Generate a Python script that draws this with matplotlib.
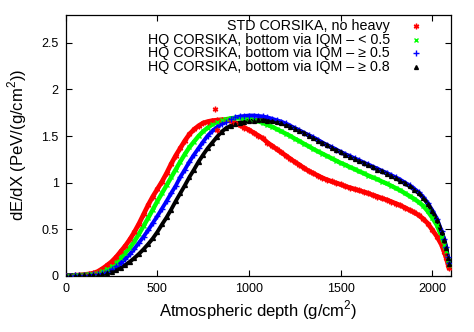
import matplotlib
matplotlib.use("Agg")
import matplotlib.pyplot as plt
from matplotlib.ticker import FormatStrFormatter, MultipleLocator

plt.rcParams['font.family'] = ['Liberation Sans', 'DejaVu Sans']
plt.rcParams['mathtext.fontset'] = 'custom'
plt.rcParams['mathtext.rm'] = 'Liberation Sans'

depth = [0, 25, 50, 75, 100, 125, 150, 175, 200, 225, 250, 275, 300, 325, 350, 375,
         400, 425, 450, 475, 500, 525, 550, 575, 600, 625, 650, 675, 700, 725, 750, 775,
         800, 825, 850, 875, 900, 925, 950, 975, 1000, 1025, 1050, 1075, 1100, 1125, 1150,
         1175, 1200, 1225, 1250, 1275, 1300, 1325, 1350, 1375, 1400, 1425, 1450, 1475,
         1500, 1525, 1550, 1575, 1600, 1625, 1650, 1675, 1700, 1725, 1750, 1775, 1800,
         1825, 1850, 1875, 1900, 1925, 1950, 1975, 2000, 2025, 2050, 2065, 2075, 2085, 2090]

std_no_heavy = [0.0, 0.002, 0.004, 0.007, 0.012, 0.018, 0.026, 0.045, 0.075, 0.11, 0.15, 0.20,
                0.26, 0.32, 0.39, 0.47, 0.56, 0.66, 0.76, 0.85, 0.93, 1.01, 1.10, 1.20, 1.29,
                1.37, 1.45, 1.52, 1.57, 1.61, 1.64, 1.655, 1.665, 1.67, 1.675, 1.672, 1.665,
                1.64, 1.615, 1.59, 1.565, 1.535, 1.505, 1.475, 1.43, 1.395, 1.36, 1.325, 1.29,
                1.255, 1.22, 1.19, 1.155, 1.125, 1.1, 1.075, 1.05, 1.03, 1.012, 0.995, 0.98,
                0.96, 0.945, 0.93, 0.915, 0.9, 0.885, 0.865, 0.85, 0.83, 0.815, 0.795, 0.775,
                0.755, 0.73, 0.705, 0.68, 0.65, 0.61, 0.56, 0.49, 0.42, 0.33, 0.25, 0.19,
                0.12, 0.08]

hq_lt05 = [0.0, 0.002, 0.004, 0.006, 0.009, 0.013, 0.019, 0.03, 0.05, 0.075, 0.105, 0.14,
           0.19, 0.245, 0.30, 0.37, 0.45, 0.535, 0.62, 0.71, 0.80, 0.885, 0.97, 1.055, 1.14,
           1.225, 1.305, 1.38, 1.44, 1.50, 1.55, 1.59, 1.625, 1.65, 1.67, 1.68, 1.69, 1.695,
           1.695, 1.69, 1.685, 1.675, 1.66, 1.64, 1.62, 1.60, 1.575, 1.55, 1.525, 1.50, 1.47,
           1.445, 1.415, 1.39, 1.36, 1.335, 1.31, 1.285, 1.26, 1.235, 1.21, 1.19, 1.165,
           1.145, 1.12, 1.10, 1.075, 1.055, 1.035, 1.01, 0.99, 0.965, 0.94, 0.915, 0.885,
           0.855, 0.825, 0.79, 0.75, 0.69, 0.62, 0.54, 0.42, 0.33, 0.26, 0.17, 0.12]

hq_ge05 = [0.0, 0.001, 0.003, 0.005, 0.007, 0.01, 0.014, 0.02, 0.03, 0.045, 0.07, 0.10,
           0.135, 0.18, 0.23, 0.29, 0.355, 0.42, 0.49, 0.565, 0.64, 0.72, 0.80, 0.885, 0.965,
           1.06, 1.14, 1.225, 1.30, 1.37, 1.44, 1.505, 1.555, 1.595, 1.63, 1.655, 1.68, 1.70,
           1.71, 1.715, 1.72, 1.72, 1.715, 1.71, 1.70, 1.685, 1.67, 1.655, 1.635, 1.61, 1.585,
           1.56, 1.535, 1.51, 1.485, 1.46, 1.43, 1.405, 1.38, 1.355, 1.33, 1.305, 1.285,
           1.26, 1.24, 1.215, 1.195, 1.17, 1.15, 1.125, 1.105, 1.08, 1.055, 1.03, 1.0,
           0.97, 0.935, 0.895, 0.845, 0.78, 0.70, 0.61, 0.48, 0.39, 0.31, 0.20, 0.14]

hq_ge08 = [0.0, 0.001, 0.002, 0.003, 0.004, 0.006, 0.008, 0.012, 0.018, 0.026, 0.04, 0.06,
           0.085, 0.115, 0.15, 0.19, 0.235, 0.285, 0.34, 0.40, 0.47, 0.55, 0.625, 0.71, 0.80,
           0.885, 0.97, 1.06, 1.14, 1.225, 1.30, 1.37, 1.43, 1.49, 1.545, 1.585, 1.61, 1.63,
           1.645, 1.655, 1.66, 1.665, 1.67, 1.67, 1.665, 1.66, 1.65, 1.635, 1.62, 1.60, 1.58,
           1.555, 1.53, 1.505, 1.48, 1.45, 1.425, 1.40, 1.375, 1.35, 1.325, 1.30, 1.275,
           1.255, 1.23, 1.21, 1.185, 1.165, 1.14, 1.12, 1.095, 1.07, 1.045, 1.02, 0.99,
           0.96, 0.925, 0.885, 0.835, 0.77, 0.69, 0.60, 0.47, 0.38, 0.30, 0.19, 0.13]

std_outlier_x = [815, 824]
std_outlier_y = [1.79, 1.56]

labels = ["STD CORSIKA, no heavy",
          "HQ CORSIKA, bottom via IQM \u2013 < 0.5",
          "HQ CORSIKA, bottom via IQM \u2013 \u2265 0.5",
          "HQ CORSIKA, bottom via IQM \u2013 \u2265 0.8"]

fig = plt.figure(figsize=(4.74, 3.32), dpi=100)
ax = fig.add_axes([0.1386, 0.1696, 0.8124, 0.7854])

series = [
    (std_no_heavy, '#ff0000', (6, 2, 0), 4.0, 3.4),
    (hq_lt05, '#00ff00', 'x', 3.5, 3.2),
    (hq_ge05, '#0000ff', '+', 3.8, 2.8),
    (hq_ge08, '#000000', '^', 2.8, 2.8),
]
for (vals, col, mk, ms, lw), lab in zip(series, labels):
    ax.plot(depth, vals, '-', color=col, lw=lw, zorder=2, solid_capstyle='round')
    ax.plot(depth, vals, linestyle='none', marker=mk, color=col, ms=ms,
            mew=1.0, zorder=3, label=lab)
ax.plot(std_outlier_x, std_outlier_y, linestyle='none', marker=(6, 2, 0), color='#ff0000',
        ms=4.0, mew=1.0, zorder=3)

# gnuplot-style key: right-aligned text followed by the point symbol
key_rows = [0.959, 0.905, 0.853, 0.802]
for (vals, col, mk, ms, lw), lab, ky in zip(series, labels, key_rows):
    ax.text(0.842, ky, lab, transform=ax.transAxes, ha='right', va='center',
            fontsize=10.3)
    ax.plot([0.910], [ky], transform=ax.transAxes, linestyle='none', marker=mk,
            color=col, ms=ms, mew=1.0, clip_on=False)

ax.set_xlim(0, 2100)
ax.set_ylim(0, 2.8)
ax.xaxis.set_major_locator(MultipleLocator(500))
ax.yaxis.set_major_locator(MultipleLocator(0.5))
ax.yaxis.set_major_formatter(FormatStrFormatter('%g'))
ax.tick_params(direction='in', top=True, right=True, length=4, width=0.8,
               labelsize=9, pad=5)
for s in ax.spines.values():
    s.set_linewidth(0.9)

ax.set_xlabel("Atmospheric depth (g/cm$^2$)", fontsize=12, labelpad=3)
ax.set_ylabel("dE/dX (PeV/(g/cm$^2$))", fontsize=12, labelpad=9)

fig.savefig("out.png", dpi=100)
